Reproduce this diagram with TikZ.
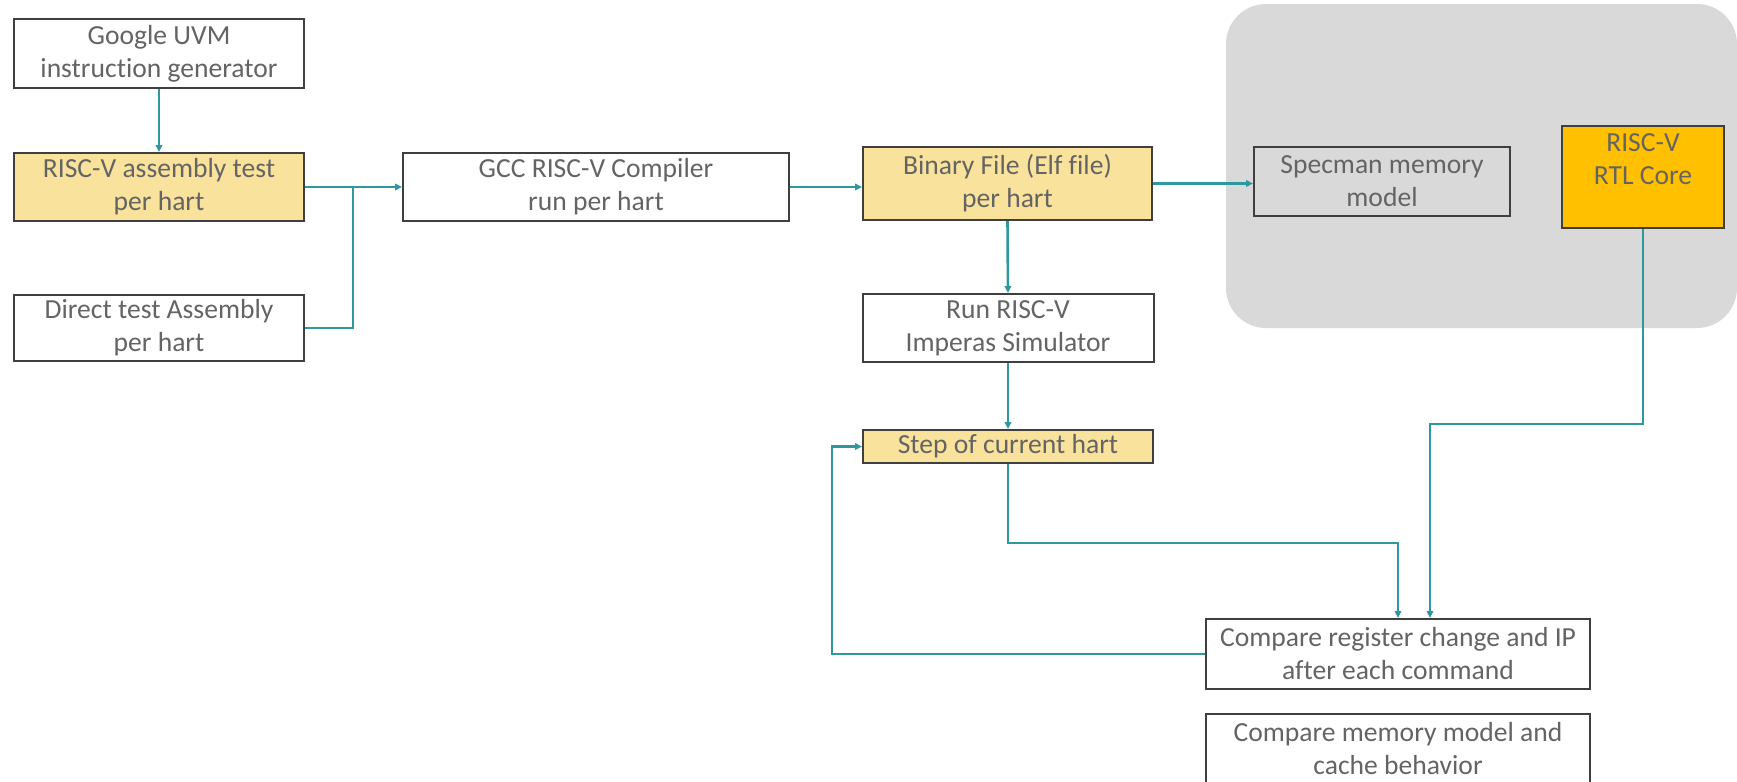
\documentclass[tikz,border=0pt]{standalone}
\usepackage{fontspec}
\setmainfont{Carlito}[Ligatures=NoCommon]
\usepackage{tikz}
\usetikzlibrary{arrows.meta, calc}

\definecolor{teal1}{HTML}{2E98A0}
\definecolor{txtgray}{HTML}{646464}
\definecolor{boxline}{HTML}{3F3F3F}
\definecolor{hartfill}{HTML}{F9E29C}
\definecolor{corefill}{HTML}{FFC000}
\definecolor{groupfill}{HTML}{D9D9D9}

\begin{document}
\begin{tikzpicture}[x=0.5pt, y=-0.5pt,
    every node/.style={font=\fontsize{13.8pt}{16.5pt}\selectfont, text=txtgray},
    blockbox/.style={draw=boxline, line width=1pt, fill=white, align=center,
        inner sep=0pt},
    hartbox/.style={blockbox, fill=hartfill},
    corebox/.style={blockbox, fill=corefill},
    groupbox/.style={blockbox, fill=none},
    link/.style={draw=teal1, line width=1.3pt,
        -{Triangle[length=3.4pt, width=3.2pt]}}]

    \useasboundingbox (0,0) rectangle (1737,782);

    % --- Reference model group ---
    \fill[groupfill, rounded corners=20pt] (1226,4) rectangle (1737,328);

    % --- Test sources ---
    \node[blockbox, minimum width=145pt, minimum height=34.5pt] (gen) at (159,53.5)
        {Google UVM\\instruction generator};
    \node[hartbox, minimum width=145pt, minimum height=34pt] (asm) at (159,187)
        {RISC-V assembly test\\per hart};
    \node[blockbox, minimum width=145pt, minimum height=33pt] (direct) at (159,328)
        {Direct test Assembly\\per hart};

    % --- Build flow ---
    \node[blockbox, minimum width=193pt, minimum height=34pt] (gcc) at (596,187)
        {GCC RISC-V Compiler\\run per hart};
    \node[hartbox, minimum width=144.5pt, minimum height=36.5pt] (elf) at (1007.5,183.5)
        {Binary File (Elf file)\\per hart};
    \node[blockbox, minimum width=145.5pt, minimum height=34pt] (sim) at (1008,328)
        {Run RISC-V\\Imperas Simulator};
    \node[hartbox, minimum width=145pt, minimum height=16.5pt] (step) at (1008,446.5)
        {Step of current hart};

    % --- Memory model and RTL ---
    \node[groupbox, minimum width=128pt, minimum height=34.5pt] (mem) at (1382,181.5)
        {Specman memory\\model};
    \node[corebox, minimum width=81pt, minimum height=51pt] (rtl) at (1643,177)
        {RISC-V\\RTL Core\\[-3pt]\strut};

    % --- Checks ---
    \node[blockbox, minimum width=192pt, minimum height=35pt] (cmp) at (1398,654)
        {Compare register change and IP\\after each command};
    \node[blockbox, minimum width=192pt, minimum height=34.5pt] (cmpmem) at (1398,748.5)
        {Compare memory model and\\cache behavior};

    % --- Connectors ---
    \coordinate (jn) at (353,187);
    \draw[link] (gen.south) -- (asm.north);
    \draw[link] (asm.east) -- (gcc.west);
    \draw[link, -] (direct.east) -| (jn);
    \draw[link] (gcc.east) -- (gcc.east -| elf.west);
    \draw[link] (elf.east) -- (elf.east -| mem.west);
    \draw[link] (elf.south) -- (sim.north);
    \draw[link] (sim.south) -- (step.north);
    \draw[link] (step.south) -- ++(0,79) -| (cmp.north);
    \draw[link] (rtl.south) -- ++(0,195) -| ($(cmp.north)+(32,0)$);
    \draw[link] (cmp.west) -- ++(-373,0) |- (step.west);

\end{tikzpicture}
\end{document}
